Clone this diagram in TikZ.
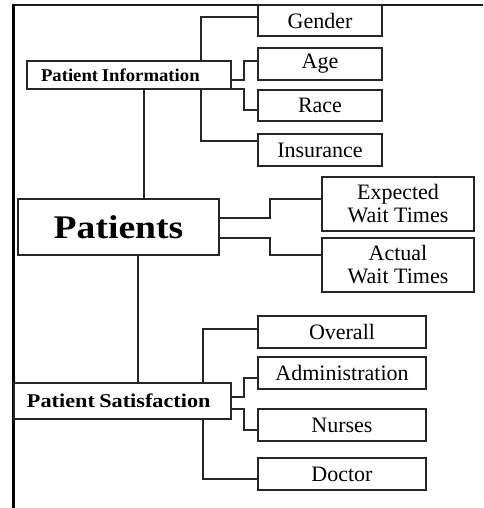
\documentclass[tikz,border=0pt]{standalone}
\usepackage{fontspec}
\setmainfont{Liberation Serif}
\begin{document}
\begin{tikzpicture}[x=1pt,y=-1pt,
  box/.style={draw=black!85, line width=1.4pt, rectangle, inner sep=0pt,
              align=center, font=\fontsize{22}{23}\selectfont},
  leaf/.style={box, minimum width=124pt, minimum height=32pt},
  sat/.style={box, minimum width=168pt, minimum height=32pt},
  wait/.style={box, minimum width=152pt, minimum height=54pt},
  group/.style={box, align=left, font=\bfseries},
  link/.style={draw=black!85, line width=1.2pt}]
\useasboundingbox (0,0) rectangle (483,508);

% frame along the top and left edges
\draw[black!90, line width=1.2pt] (12,5) -- (483,5);
\draw[black, line width=3pt] (13.5,5) -- (13.5,508);

% columns used by the elbow connectors
\coordinate (ta) at (201,0);
\coordinate (tb) at (244,0);
\coordinate (tc) at (144,0);
\coordinate (td) at (270,0);
\coordinate (te) at (138,0);
\coordinate (tf) at (203,0);

% patient information group
\node[leaf, minimum height=31pt] (gender) at (320,20.5) {Gender};
\node[leaf] (age) at (320,64) {Age};
\node[leaf, minimum height=31pt] (race) at (320,105.5) {Race};
\node[leaf] (insurance) at (320,150) {Insurance};
\node[group, minimum width=204pt, minimum height=28pt, text width=176pt,
      inner xsep=14pt, font=\bfseries\fontsize{18}{20}\selectfont]
      (pinfo) at (129,75) {\scalebox{1.04}[1]{Patient\hspace{0.2em}Information}};

% main node and wait times
\node[box, minimum width=201pt, minimum height=56pt,
      font=\bfseries\fontsize{33}{36}\selectfont]
      (patients) at (118.5,227) {\scalebox{1.14}[1]{Patients}};
\node[wait] (expected) at (398,204) {Expected\\Wait Times};
\node[wait] (actual) at (398,265) {Actual\\Wait Times};

% patient satisfaction group
\node[group, minimum width=217pt, minimum height=36pt, text width=191pt,
      inner xsep=13pt, font=\bfseries\fontsize{19.5}{22}\selectfont]
      (psat) at (122.5,401) {\scalebox{1.14}[1]{Patient\hspace{0.2em}Satisfaction}};
\node[sat] (overall) at (342,332) {Overall};
\node[sat] (admin) at (342,373) {Administration};
\node[sat] (nurses) at (342,425) {Nurses};
\node[sat] (doctor) at (342,474) {Doctor};

% connectors of the information group
\draw[link] (pinfo.north -| ta) |- ([yshift=3.5pt]gender.west);
\draw[link] (pinfo.south -| ta) |- ([yshift=9pt]insurance.west);
\draw[link] ([yshift=-5pt]pinfo.east) -- ([yshift=-5pt]pinfo.east -| tb)
            |- ([yshift=3pt]age.west);
\draw[link] ([yshift=-14pt]pinfo.east) -- ([yshift=-14pt]pinfo.east -| tb)
            |- ([yshift=-4.5pt]race.west);

% trunk through the main node
\draw[link] (pinfo.south -| tc) -- (patients.north -| tc);
\draw[link] (patients.south -| te) -- (psat.north -| te);

% wait time connectors
\draw[link] ([yshift=9pt]patients.east) -- ([yshift=9pt]patients.east -| td)
            |- ([yshift=5pt]expected.west);
\draw[link] ([yshift=-11pt]patients.east) -- ([yshift=-11pt]patients.east -| td)
            |- ([yshift=10pt]actual.west);

% connectors of the satisfaction group
\draw[link] (psat.north -| tf) |- ([yshift=3pt]overall.west);
\draw[link] (psat.south -| tf) |- ([yshift=-5pt]doctor.west);
\draw[link] ([yshift=4pt]psat.east) -- ([yshift=4pt]psat.east -| tb)
            |- ([yshift=-5pt]admin.west);
\draw[link] ([yshift=-8pt]psat.east) -- ([yshift=-8pt]psat.east -| tb)
            |- ([yshift=-5pt]nurses.west);
\end{tikzpicture}
\end{document}
